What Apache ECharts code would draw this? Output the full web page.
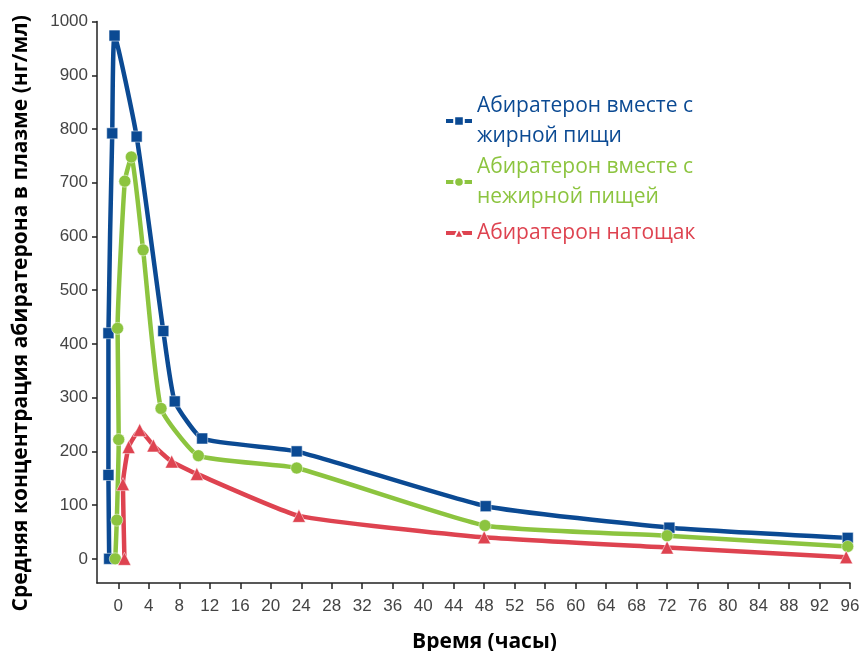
<!DOCTYPE html>
<html>
<head>
<meta charset="utf-8">
<script src="https://cdn.jsdelivr.net/npm/echarts@6/dist/echarts.min.js"></script>
<style>
  html, body { margin: 0; padding: 0; background: #fff; }
  #chart { width: 862px; height: 651px; }
</style>
</head>
<body>
<div id="chart"></div>
<script>
// time (hours) and mean plasma concentration (ng/ml)
const fatTime = [-1.2, -1.3, -1.3, -0.8, -0.5, 2.4, 5.9, 7.4, 11.0, 23.4, 48.2, 72.3, 95.7];
const fatConc = [0, 156, 420, 792, 974, 786, 424, 293, 224, 200, 98, 58, 39];

const lowFatTime = [-0.4, -0.2, 0.05, -0.1, 0.85, 1.7, 3.25, 5.6, 10.5, 23.4, 48.1, 72.0, 95.7];
const lowFatConc = [0, 72, 222, 429, 703, 748, 575, 280, 192, 169, 62, 43, 23];

const fastTime = [0.8, 0.6, 1.35, 2.8, 4.6, 7.0, 10.3, 23.7, 48.0, 72.0, 95.5];
const fastConc = [0, 139, 208, 240, 211, 181, 158, 80, 40, 21, 3];

const xTicks = [0, 4, 8, 12, 16, 20, 24, 28, 32, 36, 40, 44, 48, 52, 56, 60, 64, 68, 72, 76, 80, 84, 88, 92, 96];
const yTicks = [0, 100, 200, 300, 400, 500, 600, 700, 800, 900, 1000];

const seriesNames = [
  'Абиратерон вместе с\nжирной пищи',
  'Абиратерон вместе с\nнежирной пищей',
  'Абиратерон натощак'
];

const BLUE = '#0b4a93';
const GREEN = '#8cc43f';
const RED = '#de4350';

const zip = (xs, ys) => xs.map((x, i) => [x, ys[i]]);

const makeSeries = (name, data, color, symbol, size) => ({
  name: name,
  type: 'line',
  data: data,
  smooth: 0.15,
  symbol: symbol,
  symbolSize: size,
  showAllSymbol: true,
  lineStyle: { color: color, width: 4.5 },
  itemStyle: { color: color, borderColor: '#fff', borderWidth: 0.5 },
  emphasis: { disabled: true }
});

const chart = echarts.init(document.getElementById('chart'));

chart.setOption({
  animation: false,
  backgroundColor: '#fff',
  grid: { left: 97, right: 12, top: 21.6, bottom: 68, containLabel: false, outerBoundsMode: 'none' },
  legend: {
    orient: 'vertical',
    left: 439,
    top: 86,
    itemWidth: 26,
    itemHeight: 12,
    itemGap: 1,
    lineStyle: { width: 4 },
    data: [
      { name: seriesNames[0], textStyle: { color: BLUE } },
      { name: seriesNames[1], textStyle: { color: GREEN } },
      { name: seriesNames[2], textStyle: { color: RED, padding: [10, 0, 0, 0] } }
    ],
    textStyle: {
      fontFamily: 'Open Sans',
      fontSize: 21,
      lineHeight: 30
    }
  },
  xAxis: {
    type: 'value',
    min: -2.8,
    max: 96,
    name: 'Время (часы)',
    nameLocation: 'middle',
    nameGap: 49,
    nameTextStyle: {
      fontFamily: 'Open Sans',
      fontWeight: 'bold',
      fontSize: 21,
      color: '#000',
      padding: [0, 0, 0, 22]
    },
    axisLine: { onZero: false, lineStyle: { color: '#222', width: 1.5 } },
    axisTick: { show: true, length: 6, customValues: xTicks, lineStyle: { color: '#222', width: 1.5 } },
    axisLabel: {
      customValues: xTicks,
      fontFamily: 'Liberation Sans',
      fontSize: 17,
      color: '#444',
      margin: 15
    },
    splitLine: { show: false }
  },
  yAxis: {
    type: 'value',
    min: -45,
    max: 1000,
    name: 'Средняя концентрация абиратерона в плазме (нг/мл)',
    nameLocation: 'middle',
    nameGap: 65,
    nameTextStyle: {
      fontFamily: 'Open Sans',
      fontWeight: 'bold',
      fontSize: 21,
      color: '#000',
      padding: [0, 22, 0, 0]
    },
    axisLine: { show: true, onZero: false, lineStyle: { color: '#222', width: 1.5 } },
    axisTick: { show: true, length: 5, customValues: yTicks, lineStyle: { color: '#222', width: 1.5 } },
    axisLabel: {
      customValues: yTicks,
      formatter: (v) => String(v),
      fontFamily: 'Liberation Sans',
      fontSize: 17,
      color: '#444',
      margin: 9
    },
    splitLine: { show: false }
  },
  series: [
    makeSeries(seriesNames[0], zip(fatTime, fatConc), BLUE, 'rect', 11),
    makeSeries(seriesNames[1], zip(lowFatTime, lowFatConc), GREEN, 'circle', 12),
    makeSeries(seriesNames[2], zip(fastTime, fastConc), RED, 'triangle', 13)
  ]
});
</script>
</body>
</html>
